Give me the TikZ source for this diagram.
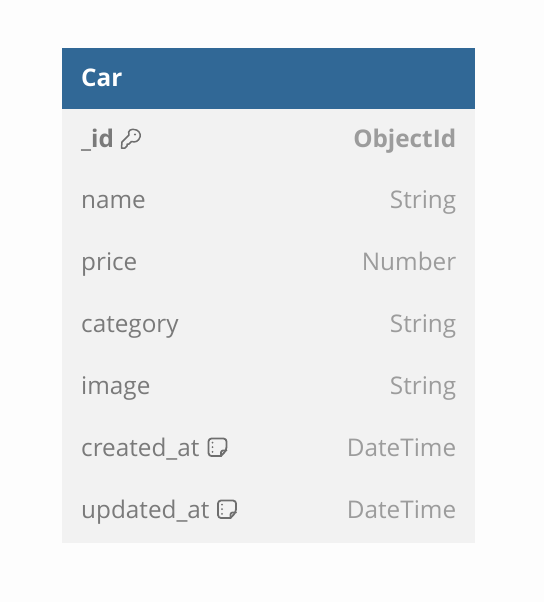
\documentclass[tikz,border=0pt]{standalone}
\usepackage{fontspec}
\setmainfont{Open Sans}
\definecolor{pagebg}{HTML}{FDFDFD}
\definecolor{headblue}{HTML}{316896}
\definecolor{bodygrey}{HTML}{F2F2F2}
\definecolor{namegrey}{HTML}{7A7A7A}
\definecolor{typegrey}{HTML}{9C9C9C}
\definecolor{icongrey}{HTML}{6E6E6E}
\tikzset{
  fname/.style={anchor=base west,inner sep=0pt,text=namegrey,font=\fontsize{24.3}{24}\selectfont},
  ftype/.style={anchor=base east,inner sep=0pt,text=typegrey,font=\fontsize{24.3}{24}\selectfont},
  iconline/.style={draw=icongrey,line width=1.8pt,line join=round,line cap=round},
}
\newcommand{\noteicon}[1]{%
  \begin{scope}[shift={(#1)}]
    \draw[iconline,rounded corners=3pt] (0,0) -- (18,0) -- (18,11.5) [sharp corners] -- (12.5,17.5) [rounded corners=3pt] -- (0,17.5) -- cycle;
    \draw[iconline,rounded corners=2pt] (12.5,17.5) -- (12.5,12) -- (18,12);
    \fill[icongrey] (4,4) circle (1) (4,8.7) circle (1) (4,13.4) circle (1);
  \end{scope}}
\begin{document}
\begin{tikzpicture}[x=1pt,y=-1pt]
\useasboundingbox (0,0) rectangle (544,602);
\fill[pagebg] (0,0) rectangle (544,602);
\fill[bodygrey] (62,109) rectangle (475,543);
\fill[headblue] (62,48) rectangle (475,109);
\node[anchor=base west,inner sep=0pt,text=white,font=\fontsize{24.3}{24}\selectfont\bfseries] (title) at (81,86) {Car};
\node[fname,font=\fontsize{24.3}{24}\selectfont\bfseries] (n1) at (81,147.4) {\_id};
\node[ftype,font=\fontsize{24.3}{24}\selectfont\bfseries] (t1) at (456.4,147.4) {ObjectId};
\node[fname] (n2) at (81,208.4) {name};
\node[ftype] (t2) at (456.4,208.4) {String};
\node[fname] (n3) at (81,270.4) {price};
\node[ftype] (t3) at (456.4,270.4) {Number};
\node[fname] (n4) at (81,332.4) {category};
\node[ftype] (t4) at (456.4,332.4) {String};
\node[fname] (n5) at (81,394.4) {image};
\node[ftype] (t5) at (456.4,394.4) {String};
\node[fname] (n6) at (81,456.4) {created\_at};
\node[ftype] (t6) at (456.4,456.4) {DateTime};
\node[fname] (n7) at (81,518.4) {updated\_at};
\node[ftype] (t7) at (456.4,518.4) {DateTime};
% key icon
\draw[iconline,line width=1.5pt] (121.5,148) -- (122,142) -- (129,135) .. controls (127,130) and (132,129) .. (134,129.5) .. controls (138,129.5) and (141,133) .. (140,137) .. controls (139,141) and (135,143) .. (131.5,141.5) -- (129,144) -- (127,144) -- (127,146) -- (125,148) -- cycle;
\fill[icongrey] (135,134.5) circle (1.2);
\noteicon{208.5,438.5}
\noteicon{218,500.5}
\end{tikzpicture}
\end{document}
